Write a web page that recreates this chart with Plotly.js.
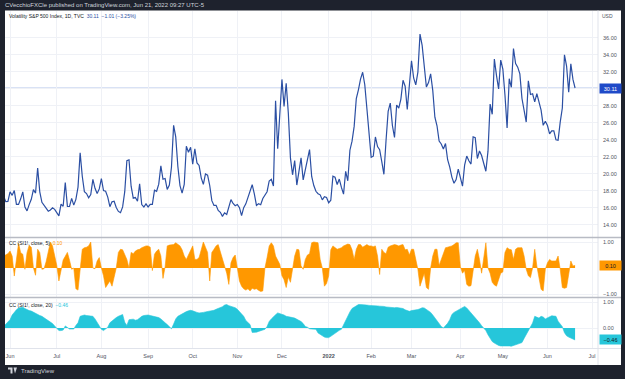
<!DOCTYPE html>
<html><head><meta charset="utf-8">
<script src="https://cdn.plot.ly/plotly-3.0.1.min.js"></script>
<style>html,body{margin:0;padding:0;background:#1e222d;}#chart{width:625px;height:379px;}</style>
</head><body><div id="chart"></div>
<script>
// ---- data ----
const startDate = '2021-05-26';
const holidays = ['2021-05-31','2021-07-05','2021-09-06','2021-11-25','2021-12-24','2022-01-17','2022-02-21','2022-04-15','2022-05-30','2022-06-20','2022-07-04'];

const vix = [
 17.36,16.74,16.76,
 17.90,17.48,18.04,16.42,16.42,17.07,17.89,16.10,15.65,16.39,17.02,18.15,17.75,20.70,17.89,16.66,16.32,15.97,15.62,15.76,16.02,15.83,
 15.48,15.07,16.44,16.20,19.00,16.18,16.17,17.12,16.33,17.01,18.45,22.50,19.73,17.91,17.69,17.20,17.58,19.36,18.31,17.70,18.24,
 19.46,18.04,17.97,17.28,16.15,16.72,16.79,16.06,15.59,15.45,16.12,17.91,21.57,21.67,18.56,17.15,17.22,16.79,18.84,16.39,16.11,16.48,
 16.11,16.41,16.41,18.08,17.96,18.80,20.95,19.37,19.46,18.18,18.69,20.81,25.71,24.36,20.87,18.63,17.75,18.76,23.25,22.56,23.14,
 21.15,22.96,21.30,21.00,19.54,18.77,20.00,19.85,18.64,16.86,16.30,16.30,15.70,15.49,15.01,15.43,15.24,15.98,16.98,16.53,16.26,
 16.41,16.03,15.10,16.03,16.48,17.22,17.78,18.73,17.66,16.29,16.49,16.37,17.11,17.59,17.91,19.17,19.38,18.58,28.62,22.96,27.19,
 31.12,27.95,30.67,27.18,21.89,19.90,21.58,18.69,20.31,21.89,19.29,20.57,21.57,22.87,19.70,18.63,17.96,17.68,17.54,16.95,17.33,17.22,
 16.60,16.91,19.73,19.61,18.76,19.40,18.41,17.62,20.31,19.19,22.79,23.85,25.59,28.85,29.90,31.16,31.96,30.49,27.66,24.83,
 21.96,22.09,24.35,23.22,22.86,21.44,19.96,23.91,27.36,28.33,25.70,24.29,28.11,27.75,28.81,31.02,30.32,27.59,30.15,
 33.32,31.29,30.48,31.98,36.45,35.13,32.45,30.23,30.75,31.77,29.83,26.67,25.67,23.87,23.53,22.94,23.57,21.67,20.81,19.63,18.90,19.33,20.56,
 19.63,18.57,21.03,22.10,21.55,21.16,24.37,24.26,21.82,22.70,22.17,21.37,20.32,22.68,28.21,27.02,33.52,31.60,29.99,33.40,
 32.34,29.25,25.42,31.20,30.19,34.75,32.99,32.56,31.77,28.87,27.47,26.10,30.96,29.35,29.43,28.48,29.45,28.37,27.50,25.72,26.19,
 25.69,24.72,25.07,25.07,24.02,23.96,26.09,27.75,34.02,32.69,29.62,32.95,31.12,30.11
];

const cc5 = [
 0.46,0.50,0.55,
 0.65,0.46,-0.31,0.33,0.95,0.59,0.53,-0.05,0.59,0.87,0.80,0.01,-0.28,0.72,0.59,-0.05,-0.03,0.25,0.60,1.0,0.85,0.49,
 0.10,-0.50,-0.05,0.31,0.45,0.60,0.30,-0.05,0.0,-0.80,-0.85,-0.05,0.72,0.78,0.80,0.85,1.0,0.0,-0.03,0.27,0.40,
 0.0,-0.30,-0.75,-0.60,-0.50,-0.70,-0.30,0.0,0.60,0.72,0.70,0.50,0.33,0.0,0.60,0.55,0.65,0.70,0.72,0.78,0.82,0.85,
 0.85,0.80,-0.10,0.53,0.65,0.72,0.46,-0.40,0.05,0.85,0.88,0.90,0.90,0.97,0.92,0.85,0.70,0.46,0.33,0.50,0.70,
 0.85,0.33,0.33,0.40,0.70,1.0,0.80,0.60,-0.50,0.60,0.72,0.85,0.90,0.60,0.35,0.10,-0.20,-0.63,0.20,0.40,0.50,
 0.0,-0.50,-0.70,-0.80,-0.85,-0.80,-0.88,-0.78,-0.82,-0.80,-0.86,-0.90,-0.88,0.0,0.40,0.85,0.97,0.85,0.46,0.30,0.14,
 -0.30,-0.45,-0.75,-0.35,-0.55,0.0,0.46,0.72,0.70,0.08,-0.05,0.33,0.50,0.55,0.97,1.0,0.98,0.97,0.33,0.0,-0.70,-0.60,
 -0.30,0.70,0.85,0.78,0.72,0.75,0.78,0.85,0.88,0.92,0.90,0.70,0.33,0.72,0.90,0.90,0.80,0.85,0.90,0.85,
 0.85,0.82,0.85,0.46,-0.25,0.72,0.60,0.55,0.80,0.85,0.88,0.90,0.88,0.85,0.88,0.90,0.70,0.72,0.50,
 0.72,0.72,0.27,-0.05,-0.70,-0.45,-0.20,-0.75,-0.82,0.0,0.46,0.72,0.72,0.10,0.33,0.60,0.78,0.80,0.82,0.85,0.90,0.97,0.97,
 0.05,-0.20,-0.10,-0.63,-0.70,-0.68,-0.15,0.46,0.72,0.33,-0.20,0.46,0.97,0.0,-0.20,-0.55,-0.65,-0.70,-0.45,-0.20,
 -0.15,0.60,0.78,0.72,0.70,0.33,0.72,0.78,0.78,0.78,0.46,-0.05,-0.30,-0.37,0.0,0.72,0.08,-0.45,-0.82,-0.88,-0.05,
 0.20,0.33,0.27,0.27,0.27,0.46,-0.05,-0.75,-0.78,-0.75,-0.18,0.27,0.08,0.10
];

const cc20 = [
 0.06,0.15,0.25,
 0.32,0.50,0.62,0.70,0.77,0.80,0.80,0.75,0.70,0.67,0.65,0.60,0.56,0.52,0.48,0.45,0.40,0.35,0.30,0.22,0.17,0.08,
 -0.03,-0.10,-0.10,-0.08,0.08,0.0,-0.04,-0.04,-0.04,0.10,0.20,0.45,0.48,0.50,0.48,0.47,0.46,0.45,0.35,0.22,0.05,
 -0.05,-0.10,-0.02,0.03,0.20,0.28,0.32,0.40,0.45,0.50,0.52,0.22,0.10,0.32,0.34,0.34,0.30,0.32,0.38,0.45,0.48,0.50,
 0.50,0.48,0.46,0.44,0.42,0.40,0.35,0.26,0.20,0.13,0.05,-0.03,0.15,0.35,0.45,0.50,0.55,0.60,0.63,0.66,0.68,
 0.66,0.62,0.60,0.58,0.58,0.60,0.62,0.63,0.64,0.66,0.68,0.72,0.75,0.77,0.82,0.88,0.90,0.86,0.84,0.82,0.78,
 0.72,0.64,0.55,0.45,0.29,0.20,0.13,-0.17,-0.17,-0.16,-0.13,-0.10,-0.07,-0.05,0.06,0.25,0.35,0.45,0.51,0.58,0.56,
 0.52,0.50,0.45,0.44,0.42,0.40,0.38,0.34,0.30,0.25,0.17,0.06,0.03,-0.03,-0.04,-0.04,-0.05,-0.19,-0.25,-0.32,-0.35,-0.37,
 -0.37,-0.32,-0.26,-0.19,-0.14,-0.09,-0.05,0.13,0.30,0.45,0.62,0.75,0.80,0.85,0.90,0.90,0.90,0.90,0.88,0.87,
 0.87,0.86,0.86,0.85,0.84,0.84,0.83,0.81,0.80,0.78,0.77,0.78,0.79,0.77,0.76,0.75,0.70,0.66,0.64,
 0.67,0.68,0.70,0.71,0.74,0.78,0.77,0.71,0.66,0.60,0.50,0.38,0.25,0.17,0.06,0.0,0.08,0.18,0.32,0.52,0.60,0.65,0.68,
 0.74,0.80,0.83,0.77,0.68,0.58,0.48,0.38,0.30,0.20,0.09,-0.02,-0.10,-0.26,-0.42,-0.52,-0.58,-0.64,-0.67,-0.69,
 -0.69,-0.68,-0.67,-0.69,-0.70,-0.68,-0.65,-0.62,-0.59,-0.56,-0.40,-0.25,-0.12,0.05,0.19,0.45,0.40,0.38,0.45,0.42,0.35,
 0.40,0.44,0.47,0.46,0.45,0.26,0.15,0.05,-0.18,-0.30,-0.35,-0.38,-0.42,-0.46
];

const monthTicks = ['2021-06-01','2021-07-01','2021-08-02','2021-09-01','2021-10-01','2021-11-01','2021-12-01','2022-01-03','2022-02-01','2022-03-01','2022-04-01','2022-05-02','2022-06-01','2022-07-01'];
const monthLabels = ['Jun','Jul','Aug','Sep','Oct','Nov','Dec','<b>2022</b>','Feb','Mar','Apr','May','Jun','Jul'];
const priceTicks = [14,16,18,20,22,24,26,28,30,32,34,36];
const ccTicks = [-1,1];
const cc20Ticks = [0,1];

// ---- helpers ----
function tradingDays(start, count, skip){
  const out=[]; const d=new Date(start+'T00:00:00Z');
  while(out.length<count){
    const iso=d.toISOString().slice(0,10); const wd=d.getUTCDay();
    if(wd!==0&&wd!==6&&!skip.includes(iso)) out.push(iso);
    d.setUTCDate(d.getUTCDate()+1);
  }
  return out;
}
const dates = tradingDays(startDate, vix.length, holidays);

const PX = x => (x-5)/593;
const PY = y => (348-y)/337;
const FONT = 'Liberation Sans, Arial, sans-serif';
const GRID = '#eff1f6';
const TXT = '#50535e';
const lastVix = vix[vix.length-1], last5 = cc5[cc5.length-1], last20 = cc20[cc20.length-1];
const xRange = ['2021-05-26 15:00','2022-07-06 19:00'];
const rb = [{bounds:['sat','mon']},{values:holidays}];

function xax(extra){
  return Object.assign({type:'date', range:xRange, rangebreaks:rb, tickmode:'array', tickvals:monthTicks, ticktext:monthLabels,
    showgrid:true, gridcolor:GRID, gridwidth:1, zeroline:false, showline:false, ticks:'', fixedrange:true,
    tickfont:{family:FONT,size:5.5,color:TXT}}, extra);
}
function yax(extra){
  return Object.assign({side:'right', showgrid:true, gridcolor:GRID, zeroline:false, showline:false, ticks:'',
    tickmode:'array', tickformat:'.2f', tickfont:{family:FONT,size:5.5,color:TXT}, ticklabelstandoff:4, fixedrange:true}, extra);
}

const traces = [
  {x:dates, y:vix, type:'scatter', mode:'lines', line:{color:'#2b4fa3', width:1.2}, xaxis:'x', yaxis:'y', hoverinfo:'skip'},
  {x:dates, y:cc5, type:'scatter', mode:'lines', fill:'tozeroy', fillcolor:'#ff9800', line:{color:'#ff9800', width:0.6}, xaxis:'x2', yaxis:'y2', hoverinfo:'skip'},
  {x:dates, y:cc20, type:'scatter', mode:'lines', fill:'tozeroy', fillcolor:'#26c6da', line:{color:'#26c6da', width:0.6}, xaxis:'x3', yaxis:'y3', hoverinfo:'skip'}
];

const layout = {
  width:625, height:379, margin:{l:5, r:27, t:11, b:31},
  paper_bgcolor:'#1e222d', plot_bgcolor:'#ffffff', showlegend:false, hovermode:false,
  font:{family:FONT, color:TXT},
  xaxis: xax({anchor:'y', showticklabels:false}),
  xaxis2: xax({anchor:'y2', showticklabels:false}),
  xaxis3: xax({anchor:'y3', showticklabels:true, ticklabelstandoff:3}),
  yaxis: yax({domain:[PY(237), 1], range:[30.11-(237-88)/8.5, 30.11+(88-11)/8.5], tickvals:priceTicks, anchor:'x'}),
  yaxis2: yax({domain:[PY(297), PY(238)], range:[-(297-268)/26, (268-238)/26], tickvals:ccTicks, anchor:'x2'}),
  yaxis3: yax({domain:[0, PY(299)], range:[-(348-328)/26, (328-299)/26], tickvals:cc20Ticks, anchor:'x3'}),
  shapes:[
    {type:'rect', xref:'paper', yref:'paper', x0:0, x1:PX(621), y0:PY(365), y1:PY(10.5), fillcolor:'#ffffff', line:{width:0}, layer:'below'},
    {type:'line', xref:'paper', yref:'y', x0:0, x1:1, y0:lastVix, y1:lastVix, line:{color:'#cdd8f2', width:1.5}, layer:'below'},
    {type:'line', xref:'paper', yref:'paper', x0:1, x1:1, y0:PY(365), y1:PY(10.5), line:{color:'#e0e3eb', width:1}},
    {type:'line', xref:'paper', yref:'paper', x0:0, x1:PX(621), y0:PY(237.5), y1:PY(237.5), line:{color:'#b8bbc4', width:1.5}},
    {type:'line', xref:'paper', yref:'paper', x0:0, x1:PX(621), y0:PY(297.5), y1:PY(297.5), line:{color:'#b8bbc4', width:1.5}},
    {type:'line', xref:'paper', yref:'paper', x0:0, x1:PX(621), y0:PY(348.5), y1:PY(348.5), line:{color:'#e0e3eb', width:1}},
    // TradingView logo glyph
    {type:'path', xref:'paper', yref:'paper', path:`M ${PX(8)} ${PY(367.5)} L ${PX(12.5)} ${PY(367.5)} L ${PX(12.5)} ${PY(373.5)} L ${PX(10.5)} ${PY(373.5)} L ${PX(10.5)} ${PY(369.5)} L ${PX(8)} ${PY(369.5)} Z`, fillcolor:'#d1d4dc', line:{width:0}},
    {type:'path', xref:'paper', yref:'paper', path:`M ${PX(13.5)} ${PY(367.5)} L ${PX(17)} ${PY(367.5)} L ${PX(15)} ${PY(373.5)} Z`, fillcolor:'#d1d4dc', line:{width:0}}
  ],
  annotations:[
    {xref:'paper', yref:'paper', x:PX(3), y:PY(5), xanchor:'left', yanchor:'middle', showarrow:false,
     text:'CVecchioFXCle published on TradingView.com, Jun 21, 2022 09:27 UTC-5', font:{family:FONT, size:6, color:'#d1d4dc'}},
    {xref:'paper', yref:'paper', x:PX(7), y:PY(16), xanchor:'left', yanchor:'middle', showarrow:false,
     text:'Volatility S&P 500 Index, 1D, TVC  <span style="color:#2b4fa3">30.11  −1.01 (−3.25%)</span>', font:{family:FONT, size:5, color:'#131722'}},
    {xref:'paper', yref:'paper', x:PX(607), y:PY(16), xanchor:'center', yanchor:'middle', showarrow:false,
     text:'USD', font:{family:FONT, size:5, color:TXT}},
    {xref:'paper', yref:'paper', x:PX(7), y:PY(243), xanchor:'left', yanchor:'middle', showarrow:false,
     text:'CC (SI1!, close, 5)  <span style="color:#ff9800">0.10</span>', font:{family:FONT, size:5, color:'#131722'}},
    {xref:'paper', yref:'paper', x:PX(7), y:PY(305), xanchor:'left', yanchor:'middle', showarrow:false,
     text:'CC (SI1!, close, 20)  <span style="color:#26c6da">−0.46</span>', font:{family:FONT, size:5, color:'#131722'}},
    {xref:'paper', yref:'y', x:PX(599), y:lastVix, xanchor:'left', yanchor:'middle', showarrow:false, width:19, height:7,
     text:'30.11', bgcolor:'#1f4ac8', borderpad:1, font:{family:FONT, size:5.5, color:'#ffffff'}},
    {xref:'paper', yref:'y2', x:PX(599), y:last5, xanchor:'left', yanchor:'middle', showarrow:false, width:19, height:7,
     text:'0.10', bgcolor:'#ff9800', borderpad:1, font:{family:FONT, size:5.5, color:'#131722'}},
    {xref:'paper', yref:'y3', x:PX(599), y:last20, xanchor:'left', yanchor:'middle', showarrow:false, width:19, height:7,
     text:'−0.46', bgcolor:'#26c6da', borderpad:1, font:{family:FONT, size:5.5, color:'#131722'}},
    {xref:'paper', yref:'paper', x:PX(19), y:PY(371), xanchor:'left', yanchor:'middle', showarrow:false,
     text:'TradingView', font:{family:FONT, size:6, color:'#d1d4dc'}}
  ]
};

Plotly.newPlot('chart', traces, layout, {staticPlot:true, displayModeBar:false});
</script></body></html>
